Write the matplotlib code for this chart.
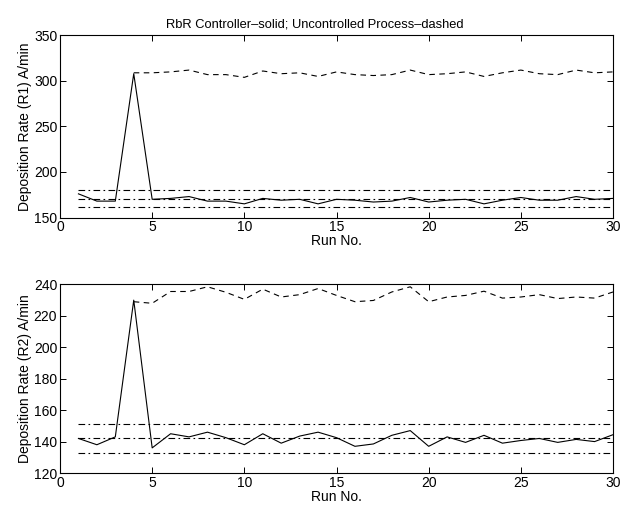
import matplotlib
matplotlib.use("Agg")
import matplotlib.pyplot as plt
import numpy as np

plt.rcParams['font.family'] = ['Liberation Sans', 'DejaVu Sans']

runs = np.arange(1, 31)

# Reactor 1 deposition rate (A/min)
r1_controlled = [176, 168, 168, 308, 170, 171, 173, 168, 168, 165,
                 171, 169, 170, 165, 170, 169, 167, 168, 172, 167,
                 169, 170, 165, 169, 172, 169, 169, 173, 170, 171]
r1_uncontrolled_runs = np.arange(4, 31)
r1_uncontrolled = [309, 309, 310, 312, 307, 307, 304, 311, 308, 309,
                   305, 310, 307, 306, 307, 312, 307, 308, 310, 305,
                   309, 312, 308, 307, 312, 309, 310]
r1_limits = [180, 170, 161]

# Reactor 2 deposition rate (A/min)
r2_controlled = [142, 138, 143, 230, 136, 145, 143, 146, 142.5, 138,
                 145, 139, 143.5, 146, 142.5, 137, 138.5, 144, 147, 137,
                 143, 139.5, 144, 139, 140.7, 142, 139.5, 141.4, 140, 144.4]
r2_uncontrolled_runs = np.arange(4, 31)
r2_uncontrolled = [229, 228, 235.5, 235.5, 238.5, 235, 230.5, 237, 232, 233.5,
                   237.4, 233, 229, 229.8, 235.2, 238.5, 229, 232, 233, 235.7,
                   231.3, 232, 233.5, 231, 232, 231.3, 235.2]
r2_limits = [151.5, 142, 133]

xticks = [0, 5, 10, 15, 20, 25, 30]

fig = plt.figure(figsize=(6.29, 5.07), dpi=100)
ax1 = fig.add_axes([0.0954, 0.571, 0.8792, 0.359])
ax2 = fig.add_axes([0.0954, 0.067, 0.8792, 0.372])

lw = 0.8
dashdot = (0, (6, 3, 1.5, 3))
dashed = (0, (5, 4))


def style(ax, ylim, yticks, ylabel):
    ax.set_xlim(0, 30)
    ax.set_ylim(*ylim)
    ax.set_xticks(xticks)
    ax.set_yticks(yticks)
    ax.tick_params(direction='in', top=True, right=True, length=4,
                   width=0.7, labelsize=10, pad=2)
    for s in ax.spines.values():
        s.set_linewidth(0.8)
    ax.set_xlabel('Run No.', fontsize=10, labelpad=0)
    ax.set_ylabel(ylabel, fontsize=10, labelpad=1)


for lim in r1_limits:
    ax1.plot([1, 30], [lim, lim], color='black', lw=lw, linestyle=dashdot)
ax1.plot(runs, r1_controlled, color='black', lw=lw)
ax1.plot(r1_uncontrolled_runs, r1_uncontrolled, color='black', lw=lw,
         linestyle=dashed)
style(ax1, (150, 350), [150, 200, 250, 300, 350],
      'Deposition Rate (R1) A/min')
ax1.set_title('RbR Controller–solid; Uncontrolled Process–dashed',
              fontsize=9.3, pad=6, x=0.461)

for lim in r2_limits:
    ax2.plot([1, 30], [lim, lim], color='black', lw=lw, linestyle=dashdot)
ax2.plot(runs, r2_controlled, color='black', lw=lw)
ax2.plot(r2_uncontrolled_runs, r2_uncontrolled, color='black', lw=lw,
         linestyle=dashed)
style(ax2, (120, 240), [120, 140, 160, 180, 200, 220, 240],
      'Deposition Rate (R2) A/min')

fig.savefig('out.png', dpi=100)
